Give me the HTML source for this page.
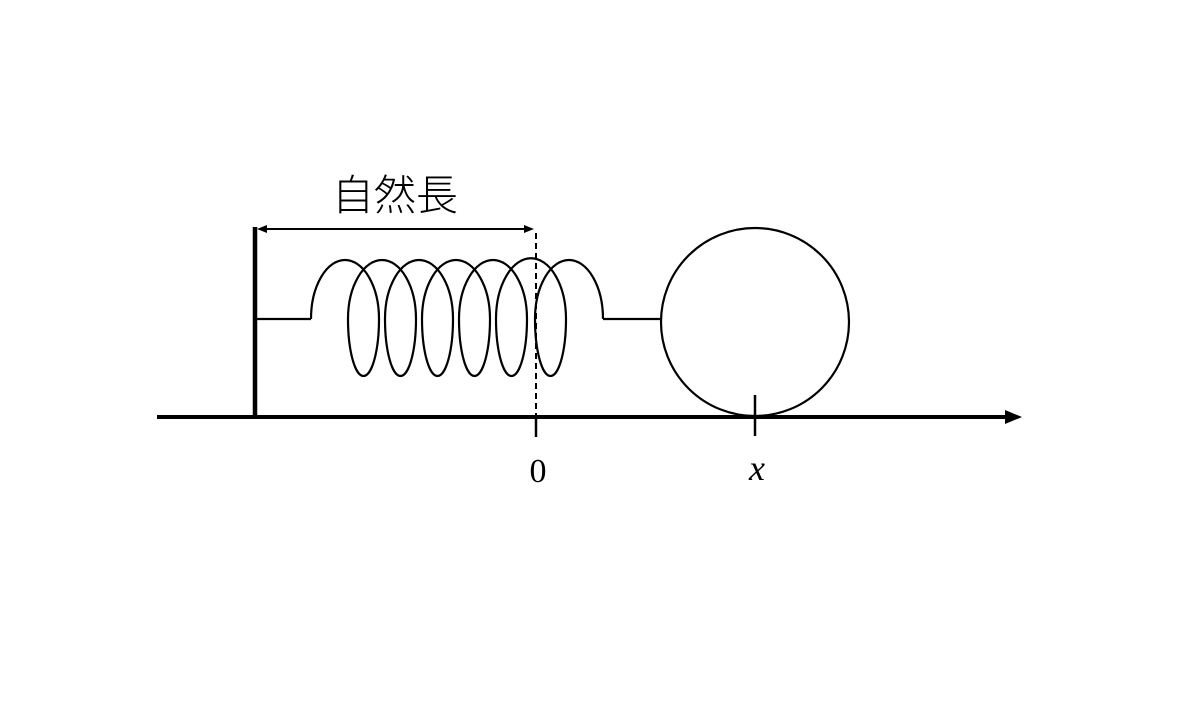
<!DOCTYPE html>
<html><head><meta charset="utf-8"><style>
html,body{margin:0;padding:0;background:#fff;}
</style></head><body>
<svg width="1200" height="711" viewBox="0 0 1200 711" xmlns="http://www.w3.org/2000/svg">
<rect width="1200" height="711" fill="#fff"/>
<line x1="157" y1="417" x2="1008" y2="417" stroke="#000" stroke-width="4"/>
<polygon points="1022,417 1005,410 1005,424" fill="#000"/>
<line x1="255" y1="227" x2="255" y2="419" stroke="#000" stroke-width="4.5"/>
<line x1="262" y1="229" x2="528" y2="229" stroke="#000" stroke-width="2"/>
<polygon points="257,229 267,225 267,233" fill="#000"/>
<polygon points="534,229 524,225 524,233" fill="#000"/>
<line x1="536" y1="233" x2="536" y2="417" stroke="#000" stroke-width="2" stroke-dasharray="6,4"/>
<line x1="536" y1="417" x2="536" y2="437" stroke="#000" stroke-width="2.5"/>
<line x1="755" y1="395" x2="755" y2="436" stroke="#000" stroke-width="2.5"/>
<g fill="none" stroke="#000" stroke-width="2.2">
<line x1="255" y1="319" x2="311" y2="319"/>
<path d="M311,319 A34,59 0 0 1 379,319 A15.5,57 0 0 1 348,319 A34,59 0 0 1 416,319 A15.5,57 0 0 1 385,319 A34,59 0 0 1 453,319 A15.5,57 0 0 1 422,319 A34,59 0 0 1 490,319 A15.5,57 0 0 1 459,319 A34,59 0 0 1 527,319 A15.5,57 0 0 1 496,319 A34,59 0 0 1 566,319 A15.5,57 0 0 1 535,319 A34,59 0 0 1 603,319"/>
<line x1="603" y1="319" x2="661" y2="319"/>
<circle cx="755" cy="322" r="94"/>
</g>
<text x="395" y="210" text-anchor="middle" font-family="'Noto Sans CJK JP',sans-serif" font-weight="300" font-size="42">自然長</text>
<text x="538" y="482" text-anchor="middle" font-family="'Liberation Serif',serif" font-size="34">0</text>
<text x="757" y="480" text-anchor="middle" font-family="'Liberation Serif',serif" font-style="italic" font-size="36">x</text>
</svg>
</body></html>
